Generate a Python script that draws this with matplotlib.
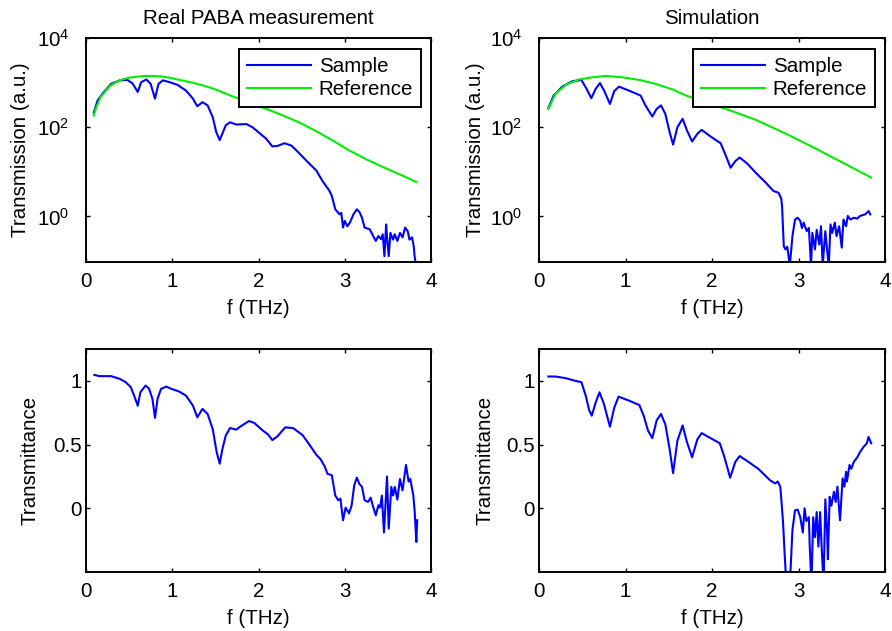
"""
PABA THz transmission: measurement vs simulation (2x2 panels, MATLAB look).
"""
import matplotlib
matplotlib.use('Agg')
import matplotlib.pyplot as plt
from matplotlib.ticker import FixedLocator, NullLocator, LogFormatterSciNotation
import numpy as np

plt.rcParams['font.family'] = ['Liberation Sans', 'DejaVu Sans']
plt.rcParams['font.size'] = 14.8
plt.rcParams['mathtext.fontset'] = 'custom'
plt.rcParams['mathtext.rm'] = 'Liberation Sans'
plt.rcParams['mathtext.it'] = 'Liberation Sans:italic'

BLUE = '#0000ff'
GREEN = '#00ee00'

# --- Real measurement, transmission (log10 of a.u.) ---
f_meas_sample = [0.09, 0.135, 0.19, 0.29, 0.39, 0.48, 0.54, 0.60, 0.64, 0.70, 0.75, 0.80,
                 0.84, 0.89, 0.97, 1.06, 1.16, 1.24, 1.29, 1.35, 1.41, 1.47, 1.51, 1.55,
                 1.58, 1.62, 1.67, 1.74, 1.86, 1.93, 2.01, 2.09, 2.16, 2.22, 2.30, 2.38,
                 2.47, 2.57, 2.67, 2.74, 2.82, 2.85, 2.89, 2.94, 2.96, 2.98, 3.00, 3.03,
                 3.06, 3.10, 3.14, 3.17, 3.20, 3.23, 3.29, 3.33, 3.36, 3.39, 3.42, 3.44,
                 3.46, 3.48, 3.49, 3.51, 3.53, 3.56, 3.58, 3.61, 3.64, 3.67, 3.70, 3.73,
                 3.75, 3.78, 3.80, 3.81, 3.83]
log_meas_sample = [2.33, 2.60, 2.75, 2.97, 3.05, 3.06, 2.98, 2.79, 3.01, 3.07, 2.97, 2.64,
                   2.97, 3.05, 3.01, 2.95, 2.82, 2.64, 2.47, 2.56, 2.49, 2.22, 1.89, 1.71,
                   1.85, 2.04, 2.11, 2.06, 2.07, 2.00, 1.87, 1.74, 1.57, 1.58, 1.64, 1.59,
                   1.42, 1.22, 1.03, 0.80, 0.58, 0.46, 0.16, 0.045, 0.08, -0.25, -0.10, -0.22,
                   -0.14, 0.045, 0.16, 0.10, -0.03, -0.25, -0.29, -0.44, -0.55, -0.44, -0.51, -0.40,
                   -0.89, -0.18, -0.47, -0.89, -0.37, -0.52, -0.40, -0.55, -0.37, -0.47, -0.25, -0.33,
                   -0.52, -0.47, -0.67, -0.89, -1.15]

f_meas_ref = [0.09, 0.11, 0.135, 0.17, 0.23, 0.28, 0.35, 0.42, 0.50, 0.58, 0.68, 0.77, 0.87,
              0.97, 1.06, 1.16, 1.25, 1.35, 1.45, 1.55, 1.70, 1.90, 2.13, 2.30, 2.48, 2.68,
              2.87, 3.05, 3.25, 3.45, 3.64, 3.83]
log_meas_ref = [2.26, 2.40, 2.52, 2.68, 2.82, 2.93, 3.01, 3.07, 3.11, 3.13, 3.15, 3.15, 3.14,
                3.11, 3.07, 3.03, 2.99, 2.94, 2.88, 2.81, 2.69, 2.55, 2.38, 2.25, 2.10, 1.90,
                1.69, 1.48, 1.28, 1.10, 0.94, 0.77]

# --- Simulation, transmission (log10 of a.u.) ---
f_sim_sample = [0.108, 0.17, 0.27, 0.385, 0.49, 0.55, 0.605, 0.655, 0.705, 0.76, 0.82, 0.87,
                0.925, 1.04, 1.175, 1.23, 1.31, 1.36, 1.41, 1.46, 1.51, 1.55, 1.60, 1.66,
                1.71, 1.77, 1.83, 1.88, 1.985, 2.10, 2.16, 2.215, 2.27, 2.32, 2.41, 2.50,
                2.62, 2.71, 2.77, 2.80, 2.81, 2.83, 2.85, 2.87, 2.90, 2.93, 2.96, 2.99,
                3.02, 3.04, 3.06, 3.095, 3.12, 3.145, 3.16, 3.19, 3.21, 3.24, 3.26, 3.28,
                3.31, 3.33, 3.35, 3.37, 3.39, 3.42, 3.44, 3.47, 3.50, 3.52, 3.55, 3.57,
                3.60, 3.64, 3.68, 3.71, 3.77, 3.81, 3.83]
log_sim_sample = [2.43, 2.71, 2.91, 3.03, 3.06, 2.86, 2.65, 2.86, 2.99, 2.79, 2.52, 2.81,
                  2.91, 2.82, 2.71, 2.49, 2.24, 2.41, 2.49, 2.30, 1.89, 1.61, 2.00, 2.19,
                  1.93, 1.68, 1.85, 1.94, 1.79, 1.64, 1.36, 1.09, 1.24, 1.32, 1.18, 0.99,
                  0.76, 0.57, 0.53, 0.40, 0.23, -0.67, -0.74, -0.68, -1.10, -0.44, -0.07, -0.03,
                  -0.10, -0.26, -0.14, -0.33, -0.26, -1.10, -0.37, -0.74, -0.30, -0.63, -0.22, -1.10,
                  -0.33, -0.74, -1.10, -0.18, -0.37, -0.14, -0.44, -0.22, -0.70, -0.07, -0.22, 0.01,
                  -0.07, -0.03, -0.05, 0.01, 0.045, 0.12, 0.045]

f_sim_ref = [0.108, 0.19, 0.31, 0.46, 0.62, 0.77, 0.96, 1.16, 1.35, 1.54, 1.70, 2.16,
             2.50, 2.87, 3.21, 3.84]
log_sim_ref = [2.41, 2.75, 2.95, 3.07, 3.12, 3.15, 3.12, 3.06, 2.97, 2.85, 2.71, 2.41,
               2.17, 1.84, 1.51, 0.87]

# --- Transmittance ---
f_meas_tr = [0.097, 0.155, 0.29, 0.39, 0.46, 0.52, 0.56, 0.60, 0.63, 0.69, 0.73, 0.77,
             0.80, 0.83, 0.87, 0.93, 0.99, 1.08, 1.16, 1.24, 1.29, 1.35, 1.41, 1.47,
             1.515, 1.55, 1.58, 1.62, 1.67, 1.74, 1.82, 1.89, 1.95, 2.05, 2.11, 2.16,
             2.22, 2.31, 2.40, 2.51, 2.59, 2.67, 2.72, 2.77, 2.80, 2.85, 2.89, 2.925,
             2.95, 2.98, 3.01, 3.05, 3.08, 3.11, 3.14, 3.17, 3.20, 3.23, 3.27, 3.30,
             3.33, 3.36, 3.39, 3.41, 3.43, 3.455, 3.49, 3.51, 3.54, 3.56, 3.58, 3.61,
             3.64, 3.67, 3.71, 3.74, 3.76, 3.795, 3.81, 3.83, 3.84]
meas_tr = [1.047, 1.037, 1.037, 1.016, 0.99, 0.95, 0.88, 0.805, 0.91, 0.963, 0.94, 0.86,
           0.71, 0.86, 0.937, 0.955, 0.937, 0.916, 0.884, 0.805, 0.714, 0.78, 0.74, 0.62,
           0.44, 0.35, 0.46, 0.57, 0.63, 0.617, 0.655, 0.685, 0.67, 0.61, 0.58, 0.535,
           0.565, 0.635, 0.63, 0.575, 0.50, 0.42, 0.385, 0.325, 0.27, 0.26, 0.10, 0.063,
           0.076, -0.094, 0.005, -0.04, 0.024, 0.18, 0.24, 0.19, 0.168, 0.063, 0.05, 0.084,
           0.01, -0.055, 0.024, 0.005, 0.10, -0.19, 0.25, -0.16, 0.168, 0.10, 0.168, 0.068,
           0.23, 0.14, 0.34, 0.21, 0.23, 0.10, -0.016, -0.265, -0.094]

f_sim_tr = [0.108, 0.19, 0.31, 0.42, 0.49, 0.54, 0.58, 0.61, 0.655, 0.70, 0.75, 0.82,
            0.87, 0.92, 1.04, 1.16, 1.21, 1.26, 1.31, 1.36, 1.41, 1.46, 1.51, 1.55,
            1.60, 1.66, 1.71, 1.77, 1.83, 1.88, 1.985, 2.09, 2.14, 2.21, 2.27, 2.32,
            2.43, 2.54, 2.67, 2.73, 2.76, 2.79, 2.82, 2.84, 2.86, 2.88, 2.90, 2.93,
            2.96, 2.99, 3.02, 3.05, 3.07, 3.09, 3.12, 3.13, 3.15, 3.17, 3.19, 3.21,
            3.23, 3.25, 3.27, 3.29, 3.31, 3.33, 3.34, 3.36, 3.38, 3.41, 3.43, 3.45,
            3.47, 3.48, 3.51, 3.53, 3.55, 3.56, 3.59, 3.61, 3.64, 3.68, 3.71, 3.75,
            3.79, 3.81, 3.84]
sim_tr = [1.034, 1.034, 1.021, 1.0, 0.99, 0.884, 0.77, 0.727, 0.83, 0.91, 0.82, 0.64,
          0.79, 0.876, 0.845, 0.81, 0.727, 0.61, 0.55, 0.69, 0.74, 0.66, 0.465, 0.276,
          0.53, 0.65, 0.52, 0.40, 0.54, 0.59, 0.55, 0.51, 0.41, 0.24, 0.365, 0.41,
          0.36, 0.307, 0.22, 0.195, 0.21, 0.168, -0.094, -0.36, -0.60, -0.52, -0.60, -0.17,
          -0.016, -0.01, -0.068, -0.19, 0.0, -0.10, -0.07, -0.30, -0.60, -0.07, -0.226, -0.03,
          -0.30, -0.03, -0.34, -0.60, 0.07, -0.17, -0.40, 0.09, 0.02, 0.13, 0.05, 0.17,
          -0.016, -0.094, 0.234, 0.17, 0.286, 0.21, 0.34, 0.31, 0.365, 0.40, 0.44, 0.48,
          0.51, 0.56, 0.51]

W, H = 892, 631
fig = plt.figure(figsize=(W / 100, H / 100), dpi=100)
ax_tl = fig.add_axes([86 / W, 1 - 262 / H, 345 / W, 224 / H])
ax_tr = fig.add_axes([539 / W, 1 - 262 / H, 346 / W, 224 / H])
ax_bl = fig.add_axes([86 / W, 1 - 572 / H, 345 / W, 223 / H])
ax_br = fig.add_axes([539 / W, 1 - 572 / H, 346 / W, 223 / H])

lw = 1.5

# top row: transmission, log scale
for ax, fs, ls, fr, lr, title, lx in [
        (ax_tl, f_meas_sample, log_meas_sample, f_meas_ref, log_meas_ref,
         'Real PABA measurement', -0.162),
        (ax_tr, f_sim_sample, log_sim_sample, f_sim_ref, log_sim_ref,
         'Simulation', -0.157)]:
    ax.semilogy(fs, 10.0 ** np.array(ls), color=BLUE, lw=lw, label='Sample')
    ax.semilogy(fr, 10.0 ** np.array(lr), color=GREEN, lw=lw, label='Reference')
    ax.set_ylim(0.095, 1e4)
    ax.yaxis.set_major_locator(FixedLocator([1, 1e2, 1e4]))
    ax.yaxis.set_major_formatter(LogFormatterSciNotation())
    ax.yaxis.set_minor_locator(NullLocator())
    ax.set_ylabel('Transmission (a.u.)')
    ax.yaxis.set_label_coords(lx, 0.5)
    ax.set_title(title, fontsize=14.8, pad=10)
    ax.tick_params(axis='y', pad=12)
    leg = ax.legend(loc='upper right', bbox_to_anchor=(1 - 10 / 345, 1 - 11 / 224),
                    borderaxespad=0, fancybox=False, framealpha=1, edgecolor='black',
                    handlelength=3.1, handletextpad=0.4, labelspacing=0.22,
                    borderpad=0.38)
    leg.get_frame().set_linewidth(1.4)

# bottom row: transmittance, linear
for ax, f, v, lx in [(ax_bl, f_meas_tr, meas_tr, -0.136), (ax_br, f_sim_tr, sim_tr, -0.13)]:
    ax.plot(f, v, color=BLUE, lw=lw)
    ax.set_ylim(-0.5, 1.25)
    ax.set_yticks([0, 0.5, 1])
    ax.set_yticklabels(['0', '0.5', '1'])
    ax.set_ylabel('Transmittance')
    ax.yaxis.set_label_coords(lx, 0.5)
    ax.tick_params(axis='y', pad=3)

for ax in (ax_tl, ax_tr, ax_bl, ax_br):
    ax.set_xlim(0, 4)
    ax.set_xticks([0, 1, 2, 3, 4])
    ax.set_xlabel('f (THz)', labelpad=6)
    ax.tick_params(direction='in', top=True, right=True, length=3, width=1.0,
                   labelsize=14.8, colors='black')
    ax.tick_params(axis='x', pad=7)
    for s in ax.spines.values():
        s.set_linewidth(1.4)

plt.savefig('out.png', dpi=100)
